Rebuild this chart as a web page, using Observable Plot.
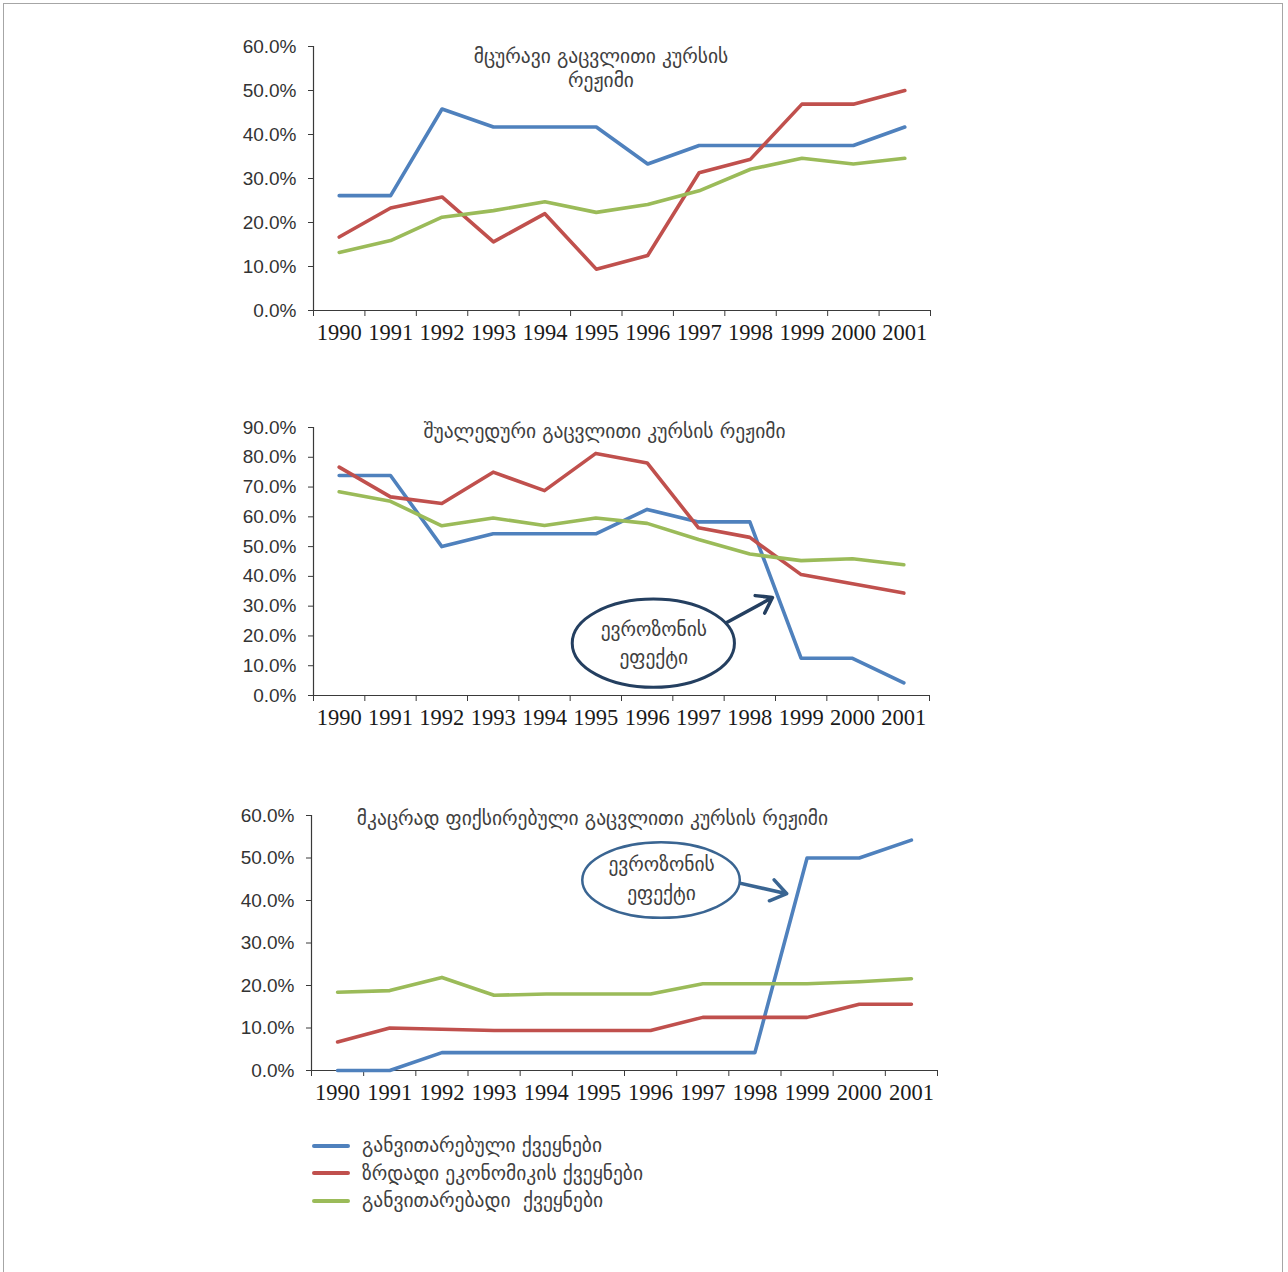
<!DOCTYPE html>
<html><head><meta charset="utf-8">
<script src="https://cdn.jsdelivr.net/npm/d3@7"></script>
<script src="https://cdn.jsdelivr.net/npm/@observablehq/plot@0.6"></script>
<style>
body{margin:0;background:#fff;}
#page{position:relative;width:1288px;height:1272px;overflow:hidden;background:#fff;}
#frame{position:absolute;left:3px;top:3px;width:1280px;height:1300px;border:1px solid #a6a6a6;box-sizing:border-box;}
.chart{position:absolute;left:0;}
#legend{position:absolute;left:312px;top:1132px;font-family:"DejaVu Sans",sans-serif;font-size:19.5px;color:#404040;}
.row{display:flex;align-items:center;height:27.5px;}
.sw{width:38px;height:4px;border-radius:2px;margin-right:12px;}
</style>
</head><body>
<div id="page"><div id="frame"></div><div id="legend"></div></div>
<script>
const years = [1990,1991,1992,1993,1994,1995,1996,1997,1998,1999,2000,2001];
const seriesNames = ["განვითარებული ქვეყნები","ზრდადი ეკონომიკის ქვეყნები","განვითარებადი  ქვეყნები"];
const seriesColors = ["#4F81BD","#C0504D","#9BBB59"];

// Chart 1: floating regime
const floatTitle = ["მცურავი გაცვლითი კურსის","რეჟიმი"];
const floatDeveloped = [0.261,0.261,0.458,0.417,0.417,0.417,0.333,0.375,0.375,0.375,0.375,0.417];
const floatEmerging  = [0.167,0.233,0.258,0.156,0.220,0.094,0.125,0.313,0.344,0.469,0.469,0.500];
const floatDeveloping= [0.132,0.159,0.212,0.227,0.247,0.223,0.241,0.272,0.321,0.346,0.333,0.346];
const floatTicks = [0,0.1,0.2,0.3,0.4,0.5,0.6];

// Chart 2: intermediate regime
const midTitle = ["შუალედური გაცვლითი კურსის რეჟიმი"];
const midDeveloped = [0.739,0.739,0.500,0.543,0.543,0.543,0.625,0.583,0.583,0.125,0.125,0.042];
const midEmerging  = [0.767,0.667,0.645,0.750,0.688,0.813,0.781,0.563,0.531,0.406,0.375,0.344];
const midDeveloping= [0.684,0.652,0.570,0.596,0.571,0.596,0.578,0.524,0.475,0.453,0.459,0.439];
const midTicks = [0,0.1,0.2,0.3,0.4,0.5,0.6,0.7,0.8,0.9];

// Chart 3: hard peg regime
const pegTitle = ["მკაცრად ფიქსირებული გაცვლითი კურსის რეჟიმი"];
const pegDeveloped = [0,0,0.042,0.042,0.042,0.042,0.042,0.042,0.042,0.500,0.500,0.542];
const pegEmerging  = [0.067,0.100,0.097,0.094,0.094,0.094,0.094,0.125,0.125,0.125,0.156,0.156];
const pegDeveloping= [0.184,0.188,0.219,0.177,0.180,0.180,0.180,0.204,0.204,0.204,0.209,0.216];
const pegTicks = [0,0.1,0.2,0.3,0.4,0.5,0.6];

// Annotations (in data units)
const noteText = ["ევროზონის","ეფექტი"];
const midNote = {cx:1996.13, cy:0.174, rx:1.58, ry:0.148, x1:1997.55, y1:0.245, x2:1998.44, y2:0.329, color:"#243F60", width:3, tdy:-3};
const pegNote = {cx:1996.21, cy:0.447, rx:1.51, ry:0.089, x1:1997.56, y1:0.445, x2:1998.61, y2:0.416, color:"#3A6592", width:2.5, tdy:-4};

const axisColor = "#3a3a3a";
const xTickFont = '"Liberation Serif", "DejaVu Serif", serif';
const yTickFont = '"Liberation Sans", "DejaVu Sans", sans-serif';
const geoFont = '"DejaVu Sans", sans-serif';

function rows(arrs) {
  const out = [];
  arrs.forEach((arr, i) => arr.forEach((v, j) => out.push({series: seriesNames[i], year: years[j], value: v})));
  return out;
}

function ellipseMark(note) {
  return (index, scales) => {
    const cx = scales.x(note.cx), cy = scales.y(note.cy);
    const rx = scales.x(note.cx + note.rx) - cx;
    const ry = scales.y(note.cy) - scales.y(note.cy + note.ry);
    return d3.create("svg:ellipse")
      .attr("cx", cx).attr("cy", cy).attr("rx", rx).attr("ry", ry)
      .attr("fill", "white").attr("stroke", note.color).attr("stroke-width", note.width)
      .node();
  };
}

function makeChart(cfg) {
  const data = rows(cfg.series);
  const bounds = years.map(y => y - 0.5).concat([years[years.length - 1] + 0.5]);
  const marks = [
    Plot.axisX({ticks: bounds, tickSize: 6, tickFormat: () => "", stroke: axisColor}),
    Plot.axisX({ticks: years, tickSize: 0, tickPadding: 14, tickFormat: d => String(d), fill: "#1a1a1a", fontSize: 22.5, fontFamily: xTickFont}),
    Plot.axisY({ticks: cfg.ticks, tickSize: 5, tickPadding: 12, tickFormat: d3.format(".1%"), stroke: axisColor, fill: "#333", fontSize: 19, fontFamily: yTickFont}),
    Plot.ruleY([0], {stroke: axisColor, strokeWidth: 1.2}),
    Plot.ruleX([bounds[0]], {stroke: axisColor, strokeWidth: 1.2}),
    Plot.lineY(data, {x: "year", y: "value", stroke: "series", strokeWidth: 3.6, strokeLinejoin: "round"}),
    Plot.text([cfg.title.join("\n")], {frameAnchor: "top", dx: cfg.titleDx, dy: cfg.titleDy, lineAnchor: "top", lineHeight: 1.23, fill: "#404040", fontSize: 19.5, fontFamily: geoFont})
  ];
  if (cfg.note) {
    const n = cfg.note;
    marks.push(Plot.arrow([n], {x1: "x1", y1: "y1", x2: "x2", y2: "y2", stroke: n.color, strokeWidth: 3.5, headLength: 14, headAngle: 70}));
    marks.push(ellipseMark(n));
    marks.push(Plot.text([noteText.join("\n")], {x: () => n.cx, y: () => n.cy, dy: n.tdy, lineHeight: 1.45, fill: "#404040", fontSize: 19.5, fontFamily: geoFont}));
  }
  const svg = Plot.plot({
    width: 1288, height: cfg.height,
    marginLeft: cfg.ml, marginRight: cfg.mr, marginTop: cfg.mt, marginBottom: 40,
    x: {domain: [bounds[0], bounds[bounds.length - 1]], label: null},
    y: {domain: [0, cfg.ticks[cfg.ticks.length - 1]], label: null},
    color: {domain: seriesNames, range: seriesColors},
    style: {background: "transparent", overflow: "visible"},
    marks
  });
  svg.classList.add("chart");
  svg.style.top = cfg.top + "px";
  document.getElementById("page").appendChild(svg);
}

makeChart({series: [floatDeveloped, floatEmerging, floatDeveloping], ticks: floatTicks, title: floatTitle,
  top: 0, height: 350, mt: 46, ml: 313, mr: 358, titleDx: -21, titleDy: -1});
makeChart({series: [midDeveloped, midEmerging, midDeveloping], ticks: midTicks, title: midTitle,
  top: 390, height: 345, mt: 37, ml: 313, mr: 359, titleDx: -17, titleDy: -7, note: midNote});
makeChart({series: [pegDeveloped, pegEmerging, pegDeveloping], ticks: pegTicks, title: pegTitle,
  top: 780, height: 330, mt: 35, ml: 311, mr: 351, titleDx: -32, titleDy: -8, note: pegNote});

const legend = document.getElementById("legend");
seriesNames.forEach((name, i) => {
  const r = document.createElement("div"); r.className = "row";
  const s = document.createElement("div"); s.className = "sw"; s.style.background = seriesColors[i];
  const t = document.createElement("span"); t.textContent = name; t.style.whiteSpace = "pre";
  r.appendChild(s); r.appendChild(t); legend.appendChild(r);
});
</script>
</body></html>
